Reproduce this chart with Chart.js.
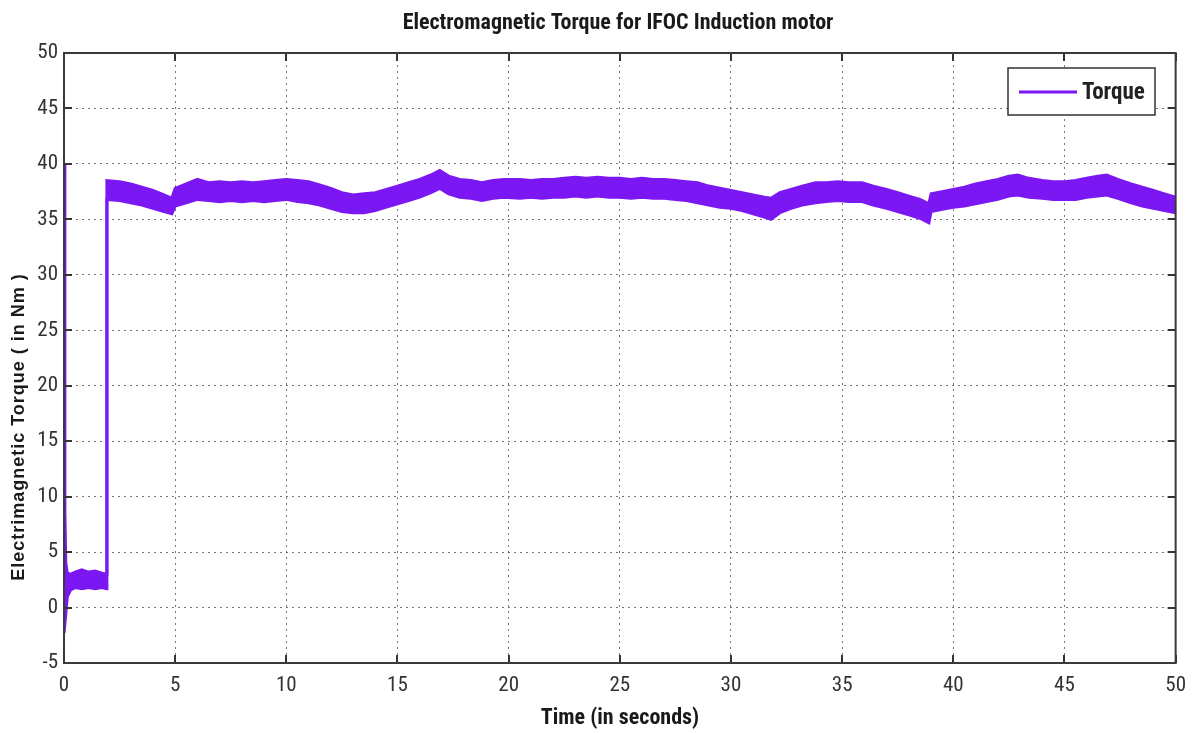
<!DOCTYPE html>
<html>
<head>
<meta charset="utf-8">
<script src="https://cdn.jsdelivr.net/npm/chart.js@4/dist/chart.umd.min.js"></script>
<style>
html,body{margin:0;padding:0;background:#fff;}
#wrap{width:1196px;height:733px;position:relative;}
</style>
</head>
<body>
<div id="wrap"><canvas id="c" width="1196" height="733"></canvas></div>
<script>
const chartTitle = "Electromagnetic Torque for IFOC Induction motor";
const xTitle = "Time (in seconds)";
const yTitle = "Electrimagnetic Torque ( in Nm )";
const seriesName = "Torque";
const xTicks = [0,5,10,15,20,25,30,35,40,45,50];
const yTicks = [-5,0,5,10,15,20,25,30,35,40,45,50];

const time = [
 0, 0.04, 0.08, 0.15, 0.3, 0.5, 0.8, 1.1, 1.4, 1.7,
 1.92, 1.93, 2.5, 3, 3.5, 4, 4.5, 4.85, 5.0, 5.5,
 6, 6.5, 7, 7.5, 8, 8.5, 9, 9.5, 10, 10.5,
 11, 11.5, 12, 12.5, 13, 13.5, 14, 14.5, 15, 15.5,
 16, 16.5, 16.9, 17.3, 17.8, 18.3, 18.8, 19.3, 19.8, 20.5,
 21, 21.5, 22, 22.5, 23, 23.5, 24, 24.5, 25, 25.5,
 26, 26.5, 27, 27.5, 28, 28.5, 29, 29.5, 30, 30.5,
 31, 31.5, 31.8, 32.2, 32.7, 33.2, 33.8, 34.3, 34.8, 35.3,
 35.9, 36.4, 37, 37.5, 38, 38.5, 38.9, 39.0, 39.5, 40,
 40.5, 41, 41.5, 42, 42.5, 42.9, 43.4, 44, 44.5, 45,
 45.5, 46, 46.5, 46.9, 47.4, 48, 48.5, 49, 49.5, 50
];
const torqueUpper = [
 40, 8.6, 4.0, 3.1, 3.0, 3.2, 3.4, 3.2, 3.3, 3.1,
 3.0, 38.5, 38.4, 38.2, 37.9, 37.6, 37.2, 36.9, 37.8, 38.2,
 38.6, 38.3, 38.4, 38.3, 38.4, 38.3, 38.4, 38.5, 38.6, 38.5,
 38.4, 38.1, 37.8, 37.4, 37.2, 37.3, 37.4, 37.7, 38.0, 38.3,
 38.6, 39.0, 39.4, 38.9, 38.6, 38.5, 38.3, 38.5, 38.6, 38.6,
 38.5, 38.6, 38.6, 38.7, 38.8, 38.7, 38.8, 38.7, 38.7, 38.6,
 38.7, 38.6, 38.6, 38.5, 38.4, 38.3, 38.0, 37.8, 37.6, 37.4,
 37.2, 37.0, 36.9, 37.4, 37.7, 38.0, 38.3, 38.3, 38.4, 38.3,
 38.3, 38.0, 37.7, 37.4, 37.1, 36.8, 36.4, 37.3, 37.5, 37.7,
 37.9, 38.2, 38.4, 38.6, 38.9, 39.0, 38.7, 38.5, 38.4, 38.4,
 38.5, 38.7, 38.9, 39.0, 38.6, 38.2, 37.9, 37.6, 37.3, 37.0
];
const torqueLower = [
 -2.3, -2.3, -0.6, 1.0, 1.6, 1.8, 1.7, 1.8, 1.7, 1.8,
 1.7, 36.8, 36.7, 36.5, 36.3, 36.0, 35.7, 35.5, 36.2, 36.5,
 36.8, 36.7, 36.6, 36.7, 36.6, 36.7, 36.6, 36.7, 36.8, 36.6,
 36.5, 36.3, 36.0, 35.7, 35.6, 35.6, 35.8, 36.1, 36.4, 36.7,
 37.0, 37.4, 37.8, 37.3, 37.0, 36.9, 36.7, 36.9, 37.0, 36.9,
 37.0, 36.9, 37.0, 37.0, 37.1, 37.0, 37.1, 37.0, 37.0, 36.9,
 37.0, 36.9, 36.9, 36.8, 36.7, 36.5, 36.3, 36.1, 36.0, 35.8,
 35.5, 35.2, 35.0, 35.6, 36.0, 36.3, 36.5, 36.6, 36.7, 36.6,
 36.6, 36.3, 36.0, 35.7, 35.4, 35.1, 34.7, 35.7, 35.9, 36.1,
 36.2, 36.4, 36.6, 36.8, 37.1, 37.2, 37.0, 36.9, 36.8, 36.8,
 36.8, 37.0, 37.1, 37.2, 36.9, 36.5, 36.2, 36.0, 35.8, 35.6
];

const PURPLE = '#7a17f2';
const NARROW = '"Liberation Sans Narrow", "Roboto Condensed", Roboto, Arial, sans-serif';

const framePlugin = {
  id: 'frame',
  afterDraw(chart) {
    const ctx = chart.ctx;
    const a = chart.chartArea;
    const xs = chart.scales.x, ys = chart.scales.y;
    ctx.save();
    // inward tick marks
    ctx.strokeStyle = '#333';
    ctx.lineWidth = 2;
    const tl = 8;
    xTicks.forEach(v => {
      const px = Math.round(xs.getPixelForValue(v));
      ctx.beginPath();
      ctx.moveTo(px, a.bottom); ctx.lineTo(px, a.bottom - tl);
      ctx.moveTo(px, a.top); ctx.lineTo(px, a.top + tl);
      ctx.stroke();
    });
    yTicks.forEach(v => {
      const py = Math.round(ys.getPixelForValue(v));
      ctx.beginPath();
      ctx.moveTo(a.left, py); ctx.lineTo(a.left + tl, py);
      ctx.moveTo(a.right, py); ctx.lineTo(a.right - tl, py);
      ctx.stroke();
    });
    // frame
    ctx.strokeStyle = '#3a3a3a';
    ctx.lineWidth = 2;
    ctx.strokeRect(a.left, a.top, a.right - a.left, a.bottom - a.top);

    // legend
    const lx = 1008, ly = 68, lw = 147, lh = 47;
    ctx.fillStyle = '#fff';
    ctx.fillRect(lx, ly, lw, lh);
    ctx.strokeStyle = '#333';
    ctx.lineWidth = 1.5;
    ctx.strokeRect(lx, ly, lw, lh);
    ctx.strokeStyle = PURPLE;
    ctx.lineWidth = 3;
    ctx.beginPath();
    ctx.moveTo(1019, 92); ctx.lineTo(1077, 92);
    ctx.stroke();
    ctx.fillStyle = '#222';
    ctx.font = 'bold 23px ' + NARROW;
    ctx.textAlign = 'left';
    ctx.textBaseline = 'middle';
    ctx.fillText(seriesName, 1082, 93);

    // title
    ctx.fillStyle = '#1a1a1a';
    ctx.font = 'bold 22px ' + NARROW;
    ctx.textAlign = 'center';
    ctx.textBaseline = 'middle';
    ctx.fillText(chartTitle, 618, 23);

    // x title
    ctx.font = 'bold 22px ' + NARROW;
    ctx.fillText(xTitle, 620, 718);

    // y title
    ctx.save();
    ctx.translate(19, 427);
    ctx.rotate(-Math.PI / 2);
    ctx.font = 'bold 18px "Liberation Sans", Arial, sans-serif';
    ctx.letterSpacing = '1px';
    ctx.fillStyle = '#1a1a1a';
    ctx.fillText(yTitle, 0, 0);
    ctx.restore();

    ctx.restore();
  }
};

new Chart(document.getElementById('c'), {
  type: 'line',
  data: {
    datasets: [
      {
        label: seriesName + ' lower',
        data: time.map((t, i) => ({x: t, y: torqueLower[i]})),
        borderColor: PURPLE,
        borderWidth: 3,
        pointRadius: 0,
        tension: 0,
        fill: false
      },
      {
        label: seriesName,
        data: time.map((t, i) => ({x: t, y: torqueUpper[i]})),
        borderColor: PURPLE,
        backgroundColor: PURPLE,
        borderWidth: 3,
        pointRadius: 0,
        tension: 0,
        fill: '-1'
      }
    ]
  },
  options: {
    responsive: false,
    animation: false,
    layout: { padding: { top: 53, right: 15, left: 0, bottom: 0 } },
    plugins: {
      legend: { display: false },
      title: { display: false },
      tooltip: { enabled: false }
    },
    scales: {
      x: {
        type: 'linear',
        min: 0, max: 50,
        afterFit(scale) { scale.height = 70; },
        afterBuildTicks(scale) { scale.ticks = xTicks.map(v => ({value: v})); },
        ticks: {
          color: '#333',
          font: { family: NARROW, size: 21 },
          padding: 10,
          maxRotation: 0,
          autoSkip: false
        },
        grid: {
          color: 'rgba(60,60,60,0.7)',
          lineWidth: 1,
          drawTicks: false
        },
        border: { display: false, dash: [2, 4] }
      },
      y: {
        min: -5, max: 50,
        afterFit(scale) { scale.width = 64; },
        afterBuildTicks(scale) { scale.ticks = yTicks.map(v => ({value: v})); },
        ticks: {
          color: '#333',
          font: { family: NARROW, size: 21 },
          padding: 6,
          autoSkip: false
        },
        grid: {
          color: 'rgba(60,60,60,0.7)',
          lineWidth: 1,
          drawTicks: false
        },
        border: { display: false, dash: [2, 4] }
      }
    }
  },
  plugins: [framePlugin]
});
</script>
</body>
</html>
